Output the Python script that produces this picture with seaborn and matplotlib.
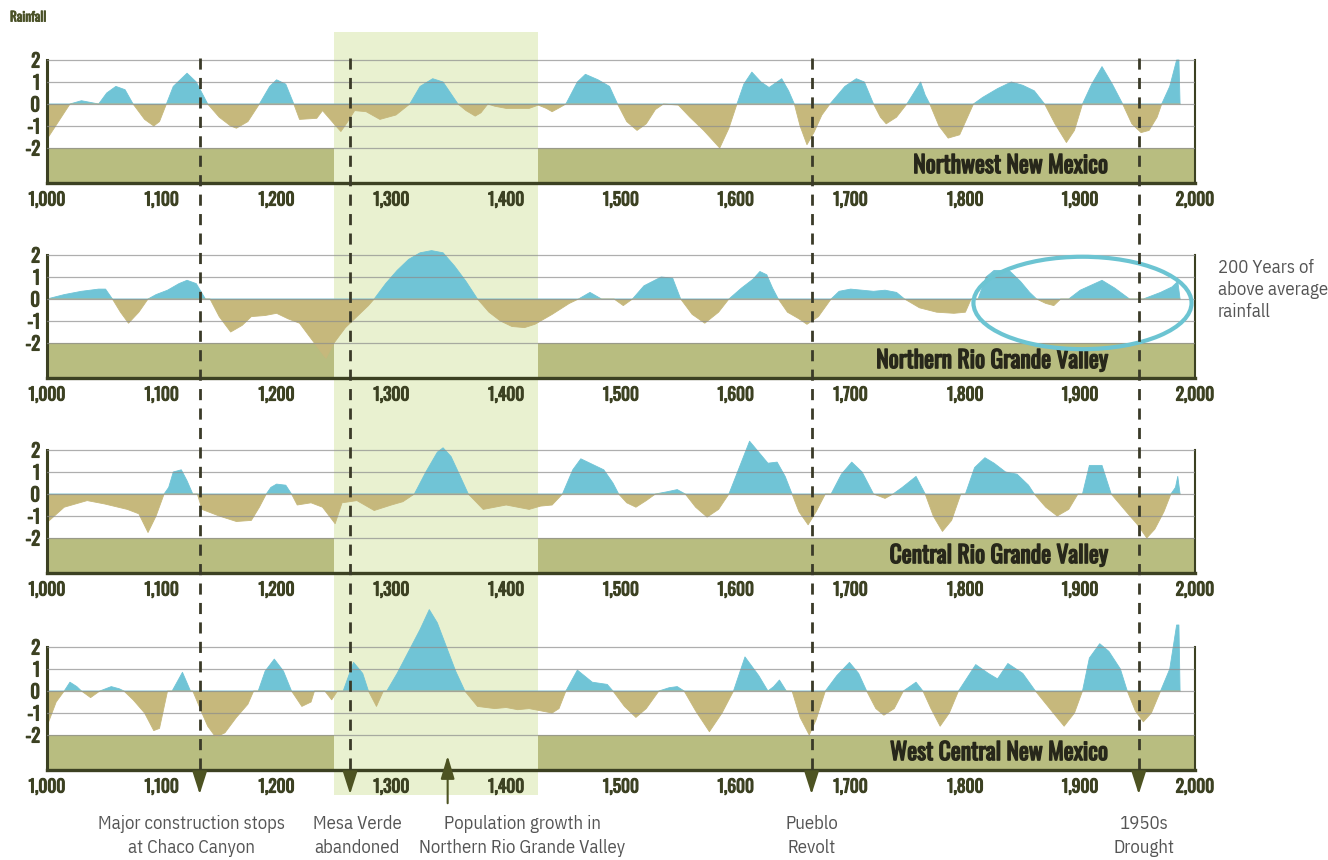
import matplotlib
matplotlib.use('Agg')
import numpy as np
import pandas as pd
import matplotlib.pyplot as plt
import matplotlib.patheffects as pe
from matplotlib.patches import Ellipse
import seaborn as sns

sns.set_theme(style='white')
plt.rcParams['font.family'] = ['Oswald', 'IBM Plex Sans Condensed', 'DejaVu Sans']
NOTE_FONT = ['IBM Plex Sans Condensed', 'Open Sans', 'DejaVu Sans']

# --- data (year, rainfall index) ---
nw_years = [1000, 1010, 1020, 1030, 1040, 1045, 1052, 1060, 1068, 1075, 1085, 1093, 1098, 1104,
            1110, 1122, 1130, 1140, 1150, 1160, 1165, 1175, 1185, 1194, 1200, 1208, 1215, 1220,
            1235, 1240, 1250, 1256, 1262, 1268, 1278, 1290, 1304, 1316, 1325, 1336, 1345, 1358,
            1365, 1373, 1378, 1384, 1390, 1400, 1420, 1428, 1435, 1440, 1447, 1452, 1462, 1469,
            1480, 1490, 1497, 1505, 1514, 1522, 1530, 1537, 1550, 1560, 1572, 1586, 1594, 1601,
            1607, 1614, 1622, 1629, 1640, 1646, 1651, 1656, 1662, 1668, 1675, 1682, 1695, 1705,
            1712, 1720, 1726, 1731, 1740, 1749, 1755, 1761, 1765, 1769, 1777, 1785, 1795, 1807,
            1815, 1828, 1840, 1850, 1860, 1869, 1878, 1888, 1895, 1902, 1910, 1919, 1928, 1937,
            1945, 1953, 1960, 1967, 1971, 1978, 1984, 1986, 1987]
nw_vals = [-1.6, -0.8, 0, 0.15, 0.05, 0, 0.5, 0.8, 0.65, 0, -0.7, -1.0, -0.8, 0,
           0.8, 1.4, 1.0, 0, -0.6, -1.0, -1.1, -0.8, 0, 0.8, 1.1, 0.9, 0, -0.7,
           -0.65, -0.3, -0.9, -1.25, -0.8, -0.3, -0.35, -0.7, -0.5, 0, 0.8, 1.15, 1.0, 0,
           -0.3, -0.55, -0.4, 0, -0.1, -0.2, -0.2, -0.05, -0.2, -0.35, -0.15, 0, 1.0, 1.35,
           1.1, 0.8, 0, -0.8, -1.2, -0.9, -0.25, 0, -0.05, -0.6, -1.2, -2.0, -1.1, 0,
           0.9, 1.45, 1.0, 0.75, 1.15, 0.6, 0, -1.0, -1.85, -1.3, -0.5, 0, 0.8, 1.15,
           1.0, 0, -0.6, -0.9, -0.6, 0, 0.5, 1.0, 0.4, 0, -1.0, -1.55, -1.4, 0,
           0.3, 0.7, 1.0, 0.85, 0.6, 0, -0.9, -1.75, -1.2, 0, 0.9, 1.7, 0.9, 0,
           -0.9, -1.3, -1.2, -0.6, 0, 0.8, 2.0, 2.0, 0]

nrg_years = [1000, 1015, 1030, 1045, 1051, 1057, 1064, 1071, 1080, 1088, 1095, 1105, 1115, 1122,
             1130, 1138, 1142, 1150, 1160, 1170, 1178, 1190, 1200, 1210, 1220, 1230, 1243, 1250,
             1260, 1270, 1280, 1285, 1295, 1305, 1315, 1325, 1335, 1345, 1355, 1365, 1375, 1385,
             1395, 1405, 1416, 1425, 1440, 1455, 1463, 1473, 1483, 1494, 1502, 1510, 1520, 1535,
             1545, 1552, 1562, 1573, 1585, 1594, 1605, 1615, 1621, 1627, 1632, 1637, 1645, 1655,
             1662, 1672, 1683, 1690, 1700, 1710, 1720, 1730, 1740, 1747, 1760, 1775, 1790, 1800,
             1805, 1811, 1818, 1825, 1838, 1848, 1856, 1862, 1870, 1877, 1883, 1890, 1900, 1919,
             1930, 1943, 1955, 1970, 1980, 1985, 1987]
nrg_vals = [0, 0.2, 0.35, 0.45, 0.45, 0, -0.6, -1.1, -0.6, 0, 0.2, 0.4, 0.7, 0.85,
            0.7, 0, 0, -0.8, -1.5, -1.2, -0.8, -0.75, -0.65, -0.9, -1.1, -1.8, -2.7, -2.0,
            -1.3, -0.8, -0.3, 0, 0.7, 1.3, 1.8, 2.1, 2.2, 2.1, 1.5, 0.8, 0, -0.6,
            -1.0, -1.25, -1.3, -1.15, -0.7, -0.2, 0, 0.3, 0, 0, -0.3, 0, 0.6, 1.0,
            0.95, 0, -0.7, -1.1, -0.6, 0, 0.5, 0.9, 1.25, 1.1, 0.5, 0, -0.6, -0.9,
            -1.15, -0.8, 0, 0.35, 0.45, 0.4, 0.35, 0.4, 0.3, 0, -0.4, -0.6, -0.65, -0.6,
            0, 0, 1.0, 1.3, 1.3, 0.8, 0.3, 0, -0.2, -0.3, 0, 0, 0.4, 0.85,
            0.5, 0, 0, 0.3, 0.55, 0.8, 0]

crg_years = [1000, 1015, 1035, 1050, 1070, 1080, 1088, 1095, 1102, 1106, 1110, 1117, 1122, 1127,
             1131, 1135, 1150, 1165, 1178, 1185, 1191, 1195, 1200, 1208, 1213, 1218, 1230, 1240,
             1251, 1257, 1270, 1285, 1300, 1310, 1320, 1330, 1340, 1345, 1352, 1360, 1367, 1380,
             1390, 1400, 1410, 1420, 1430, 1440, 1449, 1458, 1465, 1475, 1485, 1493, 1498, 1505,
             1513, 1522, 1530, 1540, 1549, 1556, 1565, 1575, 1585, 1594, 1603, 1612, 1620, 1628,
             1636, 1643, 1649, 1655, 1663, 1670, 1678, 1683, 1692, 1701, 1710, 1720, 1730, 1737,
             1745, 1757, 1765, 1772, 1780, 1788, 1796, 1800, 1808, 1817, 1825, 1835, 1845, 1855,
             1860, 1870, 1880, 1890, 1898, 1902, 1908, 1919, 1927, 1940, 1950, 1958, 1965, 1973,
             1979, 1983, 1985, 1987]
crg_vals = [-1.3, -0.6, -0.3, -0.45, -0.7, -0.9, -1.75, -1.0, 0, 0.3, 1.0, 1.1, 0.6, 0,
            0, -0.7, -1.0, -1.25, -1.2, -0.6, 0, 0.3, 0.45, 0.4, 0, -0.5, -0.4, -0.6,
            -1.35, -0.4, -0.3, -0.75, -0.5, -0.35, 0, 1.0, 1.9, 2.1, 1.7, 0.8, 0, -0.7,
            -0.6, -0.5, -0.6, -0.7, -0.55, -0.5, 0, 1.1, 1.6, 1.35, 1.1, 0.5, 0, -0.4,
            -0.6, -0.3, 0, 0.1, 0.2, 0, -0.6, -1.05, -0.7, 0, 1.2, 2.4, 1.9, 1.4,
            1.45, 0.8, 0, -0.8, -1.4, -0.8, 0, 0, 0.9, 1.45, 1.0, 0, -0.2, 0,
            0.3, 0.8, 0, -1.0, -1.7, -1.2, 0, 0, 1.2, 1.65, 1.4, 1.0, 0.9, 0.4,
            0, -0.6, -1.0, -0.7, 0, 0, 1.3, 1.3, 0, -0.8, -1.4, -2.0, -1.6, -0.8,
            0, 0.3, 0.8, 0]

wc_years = [1000, 1008, 1015, 1020, 1026, 1030, 1038, 1046, 1056, 1063, 1067, 1075, 1085, 1093,
            1098, 1105, 1109, 1118, 1125, 1127, 1135, 1140, 1147, 1155, 1165, 1175, 1180, 1184,
            1190, 1198, 1206, 1213, 1222, 1230, 1233, 1242, 1248, 1253, 1258, 1267, 1275, 1280,
            1287, 1293, 1296, 1305, 1315, 1325, 1333, 1340, 1348, 1356, 1364, 1375, 1390, 1400,
            1410, 1420, 1430, 1440, 1446, 1452, 1462, 1475, 1488, 1493, 1503, 1513, 1522, 1533,
            1542, 1549, 1555, 1565, 1577, 1588, 1598, 1608, 1620, 1628, 1633, 1638, 1644, 1649,
            1656, 1664, 1670, 1678, 1688, 1699, 1707, 1714, 1722, 1729, 1738, 1746, 1757, 1763,
            1770, 1778, 1786, 1794, 1809, 1820, 1828, 1837, 1850, 1861, 1875, 1886, 1895, 1902,
            1908, 1917, 1925, 1935, 1941, 1948, 1955, 1962, 1970, 1978, 1984, 1986, 1987]
wc_vals = [-1.6, -0.5, 0, 0.4, 0.2, 0, -0.3, 0, 0.2, 0.1, 0, -0.4, -1.0, -1.8,
           -1.7, 0, 0, 0.85, 0, 0, -1.0, -1.6, -2.1, -1.9, -1.2, -0.6, 0, 0,
           0.9, 1.45, 0.9, 0, -0.7, -0.5, 0, 0, -0.4, 0, 0, 1.3, 0.8, 0,
           -0.7, 0, 0, 0.8, 1.8, 2.8, 3.7, 3.1, 2.0, 0.9, 0, -0.7, -0.8, -0.75,
           -0.85, -0.8, -0.9, -1.0, -0.8, 0, 0.95, 0.4, 0.3, 0, -0.7, -1.2, -0.8, 0,
           0.15, 0.2, 0, -0.9, -1.85, -1.0, 0, 1.55, 0.7, 0, 0.2, 0.5, 0, 0,
           -1.2, -2.0, -1.3, 0, 0.7, 1.3, 0.8, 0, -0.8, -1.1, -0.8, 0, 0.4, 0,
           -0.8, -1.6, -1.0, 0, 1.2, 0.8, 0.55, 1.25, 0.8, 0, -0.9, -1.6, -1.0, 0,
           1.5, 2.15, 1.8, 1.0, 0, -0.9, -1.4, -1.0, 0, 1.0, 3.0, 3.0, 0]

regions = ['Northwest New Mexico', 'Northern Rio Grande Valley',
           'Central Rio Grande Valley', 'West Central New Mexico']
series = [(nw_years, nw_vals), (nrg_years, nrg_vals),
          (crg_years, crg_vals), (wc_years, wc_vals)]

events = [1133, 1264, 1666, 1951]
event_labels = ['Major construction stops\nat Chaco Canyon', 'Mesa Verde\nabandoned',
                'Pueblo\nRevolt', '1950s\nDrought']
event_label_x = [1126, 1270, 1666, 1956]
growth_year = 1349
growth_label = 'Population growth in\nNorthern Rio Grande Valley'
strip = (1250, 1428)

BLUE = '#70c4d6'
TAN = '#c6b87c'
BAND = '#b8bd80'
STRIP = '#e9f1d0'
DARK = '#3c4122'
GRAY = '#555555'


def bold(color, w=0.7):
    return [pe.withStroke(linewidth=w, foreground=color)]


W, H = 1328, 860
fig = plt.figure(figsize=(W / 100, H / 100), dpi=100)
left, width = 47 / W, 1148 / W
unit = 22.0
ylo, yhi = -3.6, 3.9
top_px = [60, 255, 450, 647]   # pixel row of the "2" grid line

# background overlay: the light green period strip
bg = fig.add_axes([left, 0, width, 1], zorder=0)
bg.set_xlim(1000, 2000)
bg.set_ylim(H, 0)
bg.axis('off')
bg.fill_between(list(strip), 32, 795, color=STRIP, lw=0)

axes = []
for i, (name, (yrs, vals)) in enumerate(zip(regions, series)):
    bottom_px = top_px[i] + (2 - ylo) * unit
    ax = fig.add_axes([left, 1 - bottom_px / H, width, (yhi - ylo) * unit / H], zorder=1)
    ax.patch.set_alpha(0)
    yrs = np.array(yrs, dtype=float)
    vals = np.array(vals, dtype=float)

    # olive band below -2, interrupted by the strip
    for a, b in [(1000, strip[0]), (strip[1], 2000)]:
        ax.fill_between([a, b], ylo, -2, color=BAND, lw=0, zorder=1)

    ax.fill_between(yrs, 0, vals, where=vals >= 0, interpolate=True, color=BLUE, lw=0, zorder=2)
    ax.fill_between(yrs, 0, vals, where=vals <= 0, interpolate=True, color=TAN, lw=0, zorder=2)
    df = pd.DataFrame({'year': yrs, 'pos': np.clip(vals, 0, None), 'neg': np.clip(vals, None, 0)})
    sns.lineplot(data=df, x='year', y='pos', ax=ax, color=BLUE, lw=0.6, estimator=None, zorder=2)
    sns.lineplot(data=df, x='year', y='neg', ax=ax, color=TAN, lw=0.6, estimator=None, zorder=2)

    for g in [2, 1, 0, -1, -2]:
        ax.plot([1000, 2000], [g, g], color='#8c8c8c', lw=0.9, alpha=0.7, zorder=3)

    ax.set_xlim(1000, 2000)
    ax.set_ylim(ylo, yhi)
    ax.set_xlabel('')
    ax.set_ylabel('')
    ax.set_xticks(range(1000, 2001, 100))
    ax.set_xticklabels([f'{t:,}' for t in range(1000, 2001, 100)],
                       fontsize=12.5, fontweight='bold', color=DARK)
    ax.set_yticks([2, 1, 0, -1, -2])
    ax.set_yticklabels(['2', '1', '0', '-1', '-2'], fontsize=13.5, fontweight='bold', color=DARK)
    for lab in ax.get_xticklabels() + ax.get_yticklabels():
        lab.set_path_effects(bold(DARK, 0.8))
    ax.tick_params(axis='x', direction='out', length=4, width=1.2, color=DARK, pad=2)
    ax.tick_params(axis='y', length=0, pad=5)
    ax.spines['top'].set_visible(False)
    for s, lw in [('left', 2.2), ('right', 1.5), ('bottom', 2.4)]:
        ax.spines[s].set_color(DARK)
        ax.spines[s].set_linewidth(lw)
    ax.spines['left'].set_bounds(ylo, 2)
    ax.spines['right'].set_bounds(ylo, 2)
    ax.grid(False)

    ax.text(1924, -2.8, name, ha='right', va='center', fontsize=17,
            fontweight='bold', color='#27271a', zorder=4, path_effects=bold('#27271a', 1.0))
    axes.append(ax)

# ellipse around the wet 19th-20th century in the northern valley
axes[1].add_patch(Ellipse((1902, -0.18), 190, 4.2, fill=False, edgecolor='#6cc4d2',
                          lw=3, clip_on=False, zorder=5))
fig.text(1218 / W, 1 - 259 / H, '200 Years of\nabove average\nrainfall', ha='left', va='top',
         fontsize=13.5, color=GRAY, linespacing=1.3, family=NOTE_FONT)

fig.text(10 / W, 1 - 17 / H, 'Rainfall', ha='left', va='center', fontsize=9.5,
         fontweight='bold', color='#4b5228', path_effects=bold('#4b5228', 0.6))

# top overlay: dashed event lines, arrows and notes
top = fig.add_axes([left, 0, width, 1], zorder=3)
top.set_xlim(1000, 2000)
top.set_ylim(H, 0)
top.axis('off')
for yr in events:
    top.plot([yr, yr], [58, 782], color='#3a3a28', lw=2, ls=(0, (4, 3)))
    top.annotate('', xy=(yr, 797), xytext=(yr, 779),
                 arrowprops=dict(arrowstyle='-|>,head_width=0.32,head_length=1.0',
                                 color='#4d5322', lw=1.5, mutation_scale=14))
top.annotate('', xy=(growth_year, 753), xytext=(growth_year, 806),
             arrowprops=dict(arrowstyle='-|>,head_width=0.3,head_length=1.0',
                             color='#4d5322', lw=1.5, mutation_scale=14))
for x, lab in zip(event_label_x, event_labels):
    top.text(x, 815, lab, ha='center', va='top', fontsize=13.5, color=GRAY,
             linespacing=1.4, family=NOTE_FONT)
top.text(1414, 815, growth_label, ha='center', va='top', fontsize=13.5, color=GRAY,
         linespacing=1.4, family=NOTE_FONT)

fig.savefig('out.png', dpi=100)
